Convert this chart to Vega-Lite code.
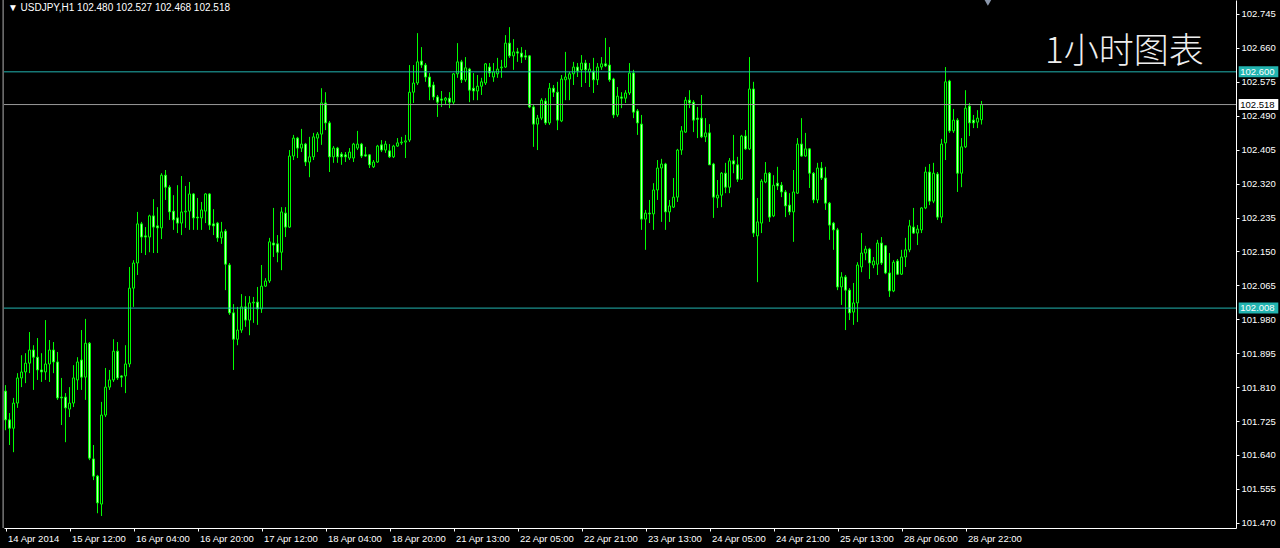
{
"$schema": "https://vega.github.io/schema/vega-lite/v6.json",
"width": 1232, "height": 528,
"autosize": {"type": "none"},
"padding": {"left": 4, "top": 0, "right": 44, "bottom": 20},
"background": "#000000",
"config": {"view": {"stroke": null}, "scale": {"continuousPadding": 0}, "axis": {"grid": false, "labelFont": "Liberation Sans", "labelFontSize": 9.5, "labelColor": "#ffffff", "domainColor": "#ffffff", "tickColor": "#ffffff", "title": null, "labelOverlap": false, "labelFlush": false}},
"datasets": {
"candles": [
{"i":0,"o":101.800,"h":101.815,"l":101.702,"c":101.728},
{"i":1,"o":101.728,"h":101.745,"l":101.665,"c":101.707},
{"i":2,"o":101.707,"h":101.783,"l":101.647,"c":101.770},
{"i":3,"o":101.770,"h":101.845,"l":101.758,"c":101.833},
{"i":4,"o":101.833,"h":101.890,"l":101.810,"c":101.848},
{"i":5,"o":101.848,"h":101.895,"l":101.820,"c":101.870},
{"i":6,"o":101.870,"h":101.948,"l":101.845,"c":101.903},
{"i":7,"o":101.903,"h":101.915,"l":101.803,"c":101.885},
{"i":8,"o":101.885,"h":101.933,"l":101.828,"c":101.853},
{"i":9,"o":101.853,"h":101.895,"l":101.823,"c":101.848},
{"i":10,"o":101.848,"h":101.978,"l":101.828,"c":101.868},
{"i":11,"o":101.868,"h":101.928,"l":101.823,"c":101.903},
{"i":12,"o":101.903,"h":101.923,"l":101.845,"c":101.873},
{"i":13,"o":101.873,"h":101.898,"l":101.778,"c":101.783},
{"i":14,"o":101.785,"h":101.833,"l":101.715,"c":101.783},
{"i":15,"o":101.785,"h":101.795,"l":101.672,"c":101.758},
{"i":16,"o":101.755,"h":101.810,"l":101.735,"c":101.770},
{"i":17,"o":101.770,"h":101.865,"l":101.760,"c":101.833},
{"i":18,"o":101.828,"h":101.885,"l":101.803,"c":101.873},
{"i":19,"o":101.878,"h":101.953,"l":101.803,"c":101.835},
{"i":20,"o":101.835,"h":101.981,"l":101.778,"c":101.920},
{"i":21,"o":101.920,"h":101.923,"l":101.627,"c":101.632},
{"i":22,"o":101.630,"h":101.665,"l":101.577,"c":101.587},
{"i":23,"o":101.587,"h":101.590,"l":101.494,"c":101.520},
{"i":24,"o":101.517,"h":101.773,"l":101.487,"c":101.740},
{"i":25,"o":101.740,"h":101.858,"l":101.735,"c":101.810},
{"i":26,"o":101.810,"h":101.853,"l":101.803,"c":101.828},
{"i":27,"o":101.828,"h":101.930,"l":101.823,"c":101.900},
{"i":28,"o":101.900,"h":101.923,"l":101.828,"c":101.833},
{"i":29,"o":101.838,"h":101.840,"l":101.810,"c":101.835},
{"i":30,"o":101.838,"h":101.915,"l":101.795,"c":101.868},
{"i":31,"o":101.868,"h":102.111,"l":101.860,"c":102.058},
{"i":32,"o":102.058,"h":102.128,"l":102.011,"c":102.121},
{"i":33,"o":102.121,"h":102.249,"l":102.091,"c":102.219},
{"i":34,"o":102.219,"h":102.224,"l":102.146,"c":102.186},
{"i":35,"o":102.189,"h":102.211,"l":102.141,"c":102.186},
{"i":36,"o":102.186,"h":102.242,"l":102.148,"c":102.239},
{"i":37,"o":102.239,"h":102.281,"l":102.146,"c":102.211},
{"i":38,"o":102.214,"h":102.261,"l":102.146,"c":102.209},
{"i":39,"o":102.209,"h":102.346,"l":102.181,"c":102.341},
{"i":40,"o":102.341,"h":102.354,"l":102.279,"c":102.311},
{"i":41,"o":102.311,"h":102.316,"l":102.229,"c":102.249},
{"i":42,"o":102.251,"h":102.291,"l":102.204,"c":102.229},
{"i":43,"o":102.234,"h":102.316,"l":102.196,"c":102.221},
{"i":44,"o":102.221,"h":102.339,"l":102.191,"c":102.249},
{"i":45,"o":102.249,"h":102.314,"l":102.209,"c":102.251},
{"i":46,"o":102.251,"h":102.324,"l":102.204,"c":102.294},
{"i":47,"o":102.294,"h":102.296,"l":102.204,"c":102.234},
{"i":48,"o":102.236,"h":102.284,"l":102.204,"c":102.234},
{"i":49,"o":102.234,"h":102.274,"l":102.204,"c":102.254},
{"i":50,"o":102.251,"h":102.296,"l":102.221,"c":102.294},
{"i":51,"o":102.294,"h":102.296,"l":102.204,"c":102.216},
{"i":52,"o":102.219,"h":102.256,"l":102.191,"c":102.214},
{"i":53,"o":102.221,"h":102.224,"l":102.174,"c":102.184},
{"i":54,"o":102.184,"h":102.224,"l":102.169,"c":102.199},
{"i":55,"o":102.201,"h":102.206,"l":102.053,"c":102.118},
{"i":56,"o":102.116,"h":102.121,"l":101.991,"c":101.996},
{"i":57,"o":101.996,"h":102.018,"l":101.853,"c":101.930},
{"i":58,"o":101.930,"h":102.011,"l":101.915,"c":101.953},
{"i":59,"o":101.953,"h":102.043,"l":101.946,"c":102.011},
{"i":60,"o":102.011,"h":102.038,"l":101.961,"c":101.978},
{"i":61,"o":101.978,"h":102.038,"l":101.940,"c":102.021},
{"i":62,"o":102.021,"h":102.036,"l":101.971,"c":102.023},
{"i":63,"o":102.023,"h":102.061,"l":101.966,"c":102.006},
{"i":64,"o":102.006,"h":102.116,"l":101.996,"c":102.063},
{"i":65,"o":102.063,"h":102.083,"l":102.061,"c":102.076},
{"i":66,"o":102.076,"h":102.184,"l":102.071,"c":102.174},
{"i":67,"o":102.171,"h":102.259,"l":102.136,"c":102.166},
{"i":68,"o":102.169,"h":102.191,"l":102.123,"c":102.148},
{"i":69,"o":102.148,"h":102.261,"l":102.103,"c":102.249},
{"i":70,"o":102.246,"h":102.261,"l":102.186,"c":102.211},
{"i":71,"o":102.211,"h":102.404,"l":102.209,"c":102.389},
{"i":72,"o":102.389,"h":102.442,"l":102.379,"c":102.434},
{"i":73,"o":102.434,"h":102.437,"l":102.384,"c":102.409},
{"i":74,"o":102.409,"h":102.457,"l":102.399,"c":102.419},
{"i":75,"o":102.419,"h":102.422,"l":102.364,"c":102.374},
{"i":76,"o":102.374,"h":102.437,"l":102.336,"c":102.387},
{"i":77,"o":102.387,"h":102.447,"l":102.379,"c":102.437},
{"i":78,"o":102.434,"h":102.449,"l":102.399,"c":102.444},
{"i":79,"o":102.444,"h":102.559,"l":102.417,"c":102.522},
{"i":80,"o":102.522,"h":102.549,"l":102.454,"c":102.472},
{"i":81,"o":102.472,"h":102.477,"l":102.349,"c":102.387},
{"i":82,"o":102.387,"h":102.414,"l":102.372,"c":102.409},
{"i":83,"o":102.409,"h":102.412,"l":102.372,"c":102.387},
{"i":84,"o":102.394,"h":102.399,"l":102.367,"c":102.387},
{"i":85,"o":102.392,"h":102.399,"l":102.374,"c":102.387},
{"i":86,"o":102.384,"h":102.409,"l":102.379,"c":102.399},
{"i":87,"o":102.384,"h":102.422,"l":102.374,"c":102.419},
{"i":88,"o":102.409,"h":102.452,"l":102.404,"c":102.419},
{"i":89,"o":102.419,"h":102.422,"l":102.384,"c":102.389},
{"i":90,"o":102.392,"h":102.412,"l":102.387,"c":102.389},
{"i":91,"o":102.392,"h":102.394,"l":102.359,"c":102.367},
{"i":92,"o":102.362,"h":102.379,"l":102.359,"c":102.374},
{"i":93,"o":102.374,"h":102.417,"l":102.372,"c":102.414},
{"i":94,"o":102.417,"h":102.429,"l":102.399,"c":102.404},
{"i":95,"o":102.404,"h":102.427,"l":102.397,"c":102.419},
{"i":96,"o":102.402,"h":102.419,"l":102.384,"c":102.387},
{"i":97,"o":102.387,"h":102.417,"l":102.384,"c":102.414},
{"i":98,"o":102.414,"h":102.434,"l":102.412,"c":102.422},
{"i":99,"o":102.422,"h":102.437,"l":102.417,"c":102.424},
{"i":100,"o":102.424,"h":102.442,"l":102.384,"c":102.427},
{"i":101,"o":102.429,"h":102.617,"l":102.424,"c":102.549},
{"i":102,"o":102.549,"h":102.617,"l":102.522,"c":102.572},
{"i":103,"o":102.572,"h":102.697,"l":102.567,"c":102.625},
{"i":104,"o":102.627,"h":102.662,"l":102.610,"c":102.617},
{"i":105,"o":102.617,"h":102.622,"l":102.575,"c":102.587},
{"i":106,"o":102.587,"h":102.597,"l":102.529,"c":102.562},
{"i":107,"o":102.567,"h":102.575,"l":102.529,"c":102.537},
{"i":108,"o":102.537,"h":102.542,"l":102.487,"c":102.524},
{"i":109,"o":102.532,"h":102.552,"l":102.512,"c":102.529},
{"i":110,"o":102.529,"h":102.537,"l":102.517,"c":102.534},
{"i":111,"o":102.534,"h":102.549,"l":102.509,"c":102.524},
{"i":112,"o":102.524,"h":102.597,"l":102.517,"c":102.595},
{"i":113,"o":102.595,"h":102.672,"l":102.585,"c":102.625},
{"i":114,"o":102.625,"h":102.630,"l":102.572,"c":102.580},
{"i":115,"o":102.580,"h":102.637,"l":102.575,"c":102.610},
{"i":116,"o":102.607,"h":102.610,"l":102.524,"c":102.554},
{"i":117,"o":102.559,"h":102.597,"l":102.529,"c":102.552},
{"i":118,"o":102.552,"h":102.592,"l":102.529,"c":102.564},
{"i":119,"o":102.564,"h":102.585,"l":102.542,"c":102.575},
{"i":120,"o":102.572,"h":102.622,"l":102.567,"c":102.620},
{"i":121,"o":102.612,"h":102.622,"l":102.587,"c":102.597},
{"i":122,"o":102.587,"h":102.622,"l":102.575,"c":102.600},
{"i":123,"o":102.595,"h":102.635,"l":102.585,"c":102.607},
{"i":124,"o":102.610,"h":102.630,"l":102.585,"c":102.612},
{"i":125,"o":102.612,"h":102.692,"l":102.610,"c":102.672},
{"i":126,"o":102.672,"h":102.712,"l":102.635,"c":102.640},
{"i":127,"o":102.640,"h":102.682,"l":102.605,"c":102.650},
{"i":128,"o":102.650,"h":102.660,"l":102.625,"c":102.647},
{"i":129,"o":102.647,"h":102.662,"l":102.622,"c":102.637},
{"i":130,"o":102.640,"h":102.655,"l":102.630,"c":102.637},
{"i":131,"o":102.640,"h":102.642,"l":102.509,"c":102.512},
{"i":132,"o":102.512,"h":102.517,"l":102.412,"c":102.469},
{"i":133,"o":102.469,"h":102.492,"l":102.404,"c":102.484},
{"i":134,"o":102.484,"h":102.534,"l":102.479,"c":102.529},
{"i":135,"o":102.527,"h":102.534,"l":102.467,"c":102.472},
{"i":136,"o":102.472,"h":102.572,"l":102.467,"c":102.559},
{"i":137,"o":102.559,"h":102.567,"l":102.537,"c":102.549},
{"i":138,"o":102.549,"h":102.575,"l":102.454,"c":102.479},
{"i":139,"o":102.477,"h":102.592,"l":102.474,"c":102.582},
{"i":140,"o":102.580,"h":102.650,"l":102.529,"c":102.587},
{"i":141,"o":102.582,"h":102.600,"l":102.529,"c":102.595},
{"i":142,"o":102.595,"h":102.625,"l":102.567,"c":102.612},
{"i":143,"o":102.612,"h":102.622,"l":102.587,"c":102.602},
{"i":144,"o":102.605,"h":102.642,"l":102.562,"c":102.622},
{"i":145,"o":102.622,"h":102.630,"l":102.572,"c":102.605},
{"i":146,"o":102.600,"h":102.622,"l":102.562,"c":102.607},
{"i":147,"o":102.602,"h":102.635,"l":102.547,"c":102.580},
{"i":148,"o":102.580,"h":102.622,"l":102.567,"c":102.612},
{"i":149,"o":102.612,"h":102.637,"l":102.605,"c":102.620},
{"i":150,"o":102.620,"h":102.685,"l":102.612,"c":102.615},
{"i":151,"o":102.617,"h":102.662,"l":102.575,"c":102.580},
{"i":152,"o":102.582,"h":102.585,"l":102.484,"c":102.492},
{"i":153,"o":102.492,"h":102.562,"l":102.487,"c":102.539},
{"i":154,"o":102.537,"h":102.549,"l":102.509,"c":102.534},
{"i":155,"o":102.534,"h":102.554,"l":102.522,"c":102.547},
{"i":156,"o":102.547,"h":102.622,"l":102.542,"c":102.597},
{"i":157,"o":102.597,"h":102.605,"l":102.484,"c":102.499},
{"i":158,"o":102.502,"h":102.507,"l":102.442,"c":102.472},
{"i":159,"o":102.469,"h":102.492,"l":102.204,"c":102.231},
{"i":160,"o":102.231,"h":102.254,"l":102.154,"c":102.246},
{"i":161,"o":102.246,"h":102.279,"l":102.221,"c":102.244},
{"i":162,"o":102.244,"h":102.321,"l":102.204,"c":102.304},
{"i":163,"o":102.304,"h":102.379,"l":102.279,"c":102.359},
{"i":164,"o":102.359,"h":102.382,"l":102.224,"c":102.369},
{"i":165,"o":102.369,"h":102.372,"l":102.204,"c":102.249},
{"i":166,"o":102.249,"h":102.279,"l":102.224,"c":102.264},
{"i":167,"o":102.261,"h":102.334,"l":102.259,"c":102.286},
{"i":168,"o":102.286,"h":102.407,"l":102.274,"c":102.404},
{"i":169,"o":102.404,"h":102.464,"l":102.392,"c":102.452},
{"i":170,"o":102.449,"h":102.537,"l":102.447,"c":102.529},
{"i":171,"o":102.529,"h":102.554,"l":102.509,"c":102.522},
{"i":172,"o":102.524,"h":102.529,"l":102.449,"c":102.479},
{"i":173,"o":102.484,"h":102.512,"l":102.434,"c":102.481},
{"i":174,"o":102.484,"h":102.542,"l":102.434,"c":102.437},
{"i":175,"o":102.437,"h":102.484,"l":102.424,"c":102.447},
{"i":176,"o":102.447,"h":102.469,"l":102.367,"c":102.367},
{"i":177,"o":102.369,"h":102.372,"l":102.234,"c":102.286},
{"i":178,"o":102.284,"h":102.329,"l":102.259,"c":102.291},
{"i":179,"o":102.291,"h":102.349,"l":102.261,"c":102.346},
{"i":180,"o":102.346,"h":102.372,"l":102.296,"c":102.311},
{"i":181,"o":102.311,"h":102.384,"l":102.296,"c":102.377},
{"i":182,"o":102.377,"h":102.442,"l":102.346,"c":102.369},
{"i":183,"o":102.367,"h":102.387,"l":102.324,"c":102.331},
{"i":184,"o":102.331,"h":102.442,"l":102.329,"c":102.439},
{"i":185,"o":102.439,"h":102.454,"l":102.404,"c":102.407},
{"i":186,"o":102.407,"h":102.637,"l":102.404,"c":102.557},
{"i":187,"o":102.557,"h":102.575,"l":102.186,"c":102.196},
{"i":188,"o":102.189,"h":102.284,"l":102.073,"c":102.224},
{"i":189,"o":102.221,"h":102.331,"l":102.196,"c":102.326},
{"i":190,"o":102.324,"h":102.374,"l":102.321,"c":102.346},
{"i":191,"o":102.346,"h":102.349,"l":102.224,"c":102.236},
{"i":192,"o":102.239,"h":102.341,"l":102.236,"c":102.316},
{"i":193,"o":102.321,"h":102.362,"l":102.304,"c":102.314},
{"i":194,"o":102.316,"h":102.324,"l":102.286,"c":102.299},
{"i":195,"o":102.299,"h":102.304,"l":102.236,"c":102.264},
{"i":196,"o":102.266,"h":102.296,"l":102.241,"c":102.249},
{"i":197,"o":102.249,"h":102.354,"l":102.174,"c":102.299},
{"i":198,"o":102.296,"h":102.434,"l":102.294,"c":102.419},
{"i":199,"o":102.419,"h":102.484,"l":102.387,"c":102.389},
{"i":200,"o":102.389,"h":102.447,"l":102.387,"c":102.407},
{"i":201,"o":102.407,"h":102.409,"l":102.309,"c":102.346},
{"i":202,"o":102.346,"h":102.349,"l":102.271,"c":102.279},
{"i":203,"o":102.279,"h":102.372,"l":102.271,"c":102.359},
{"i":204,"o":102.359,"h":102.374,"l":102.329,"c":102.334},
{"i":205,"o":102.334,"h":102.362,"l":102.254,"c":102.271},
{"i":206,"o":102.271,"h":102.274,"l":102.179,"c":102.216},
{"i":207,"o":102.221,"h":102.224,"l":102.154,"c":102.204},
{"i":208,"o":102.204,"h":102.209,"l":102.053,"c":102.061},
{"i":209,"o":102.061,"h":102.098,"l":102.016,"c":102.086},
{"i":210,"o":102.086,"h":102.091,"l":101.953,"c":102.053},
{"i":211,"o":102.053,"h":102.058,"l":101.978,"c":101.996},
{"i":212,"o":101.998,"h":102.071,"l":101.966,"c":102.021},
{"i":213,"o":102.021,"h":102.123,"l":101.973,"c":102.116},
{"i":214,"o":102.111,"h":102.196,"l":102.098,"c":102.146},
{"i":215,"o":102.146,"h":102.164,"l":102.128,"c":102.156},
{"i":216,"o":102.156,"h":102.159,"l":102.081,"c":102.121},
{"i":217,"o":102.116,"h":102.136,"l":102.108,"c":102.126},
{"i":218,"o":102.118,"h":102.179,"l":102.091,"c":102.171},
{"i":219,"o":102.171,"h":102.186,"l":102.116,"c":102.121},
{"i":220,"o":102.164,"h":102.166,"l":102.093,"c":102.096},
{"i":221,"o":102.096,"h":102.146,"l":102.036,"c":102.051},
{"i":222,"o":102.051,"h":102.128,"l":102.048,"c":102.123},
{"i":223,"o":102.126,"h":102.131,"l":102.091,"c":102.093},
{"i":224,"o":102.093,"h":102.154,"l":102.091,"c":102.136},
{"i":225,"o":102.136,"h":102.184,"l":102.111,"c":102.154},
{"i":226,"o":102.154,"h":102.229,"l":102.148,"c":102.214},
{"i":227,"o":102.211,"h":102.259,"l":102.194,"c":102.196},
{"i":228,"o":102.196,"h":102.216,"l":102.166,"c":102.206},
{"i":229,"o":102.204,"h":102.261,"l":102.196,"c":102.259},
{"i":230,"o":102.259,"h":102.362,"l":102.256,"c":102.349},
{"i":231,"o":102.349,"h":102.369,"l":102.266,"c":102.276},
{"i":232,"o":102.276,"h":102.372,"l":102.271,"c":102.346},
{"i":233,"o":102.344,"h":102.349,"l":102.229,"c":102.236},
{"i":234,"o":102.236,"h":102.432,"l":102.221,"c":102.419},
{"i":235,"o":102.422,"h":102.612,"l":102.379,"c":102.575},
{"i":236,"o":102.577,"h":102.580,"l":102.447,"c":102.452},
{"i":237,"o":102.452,"h":102.507,"l":102.447,"c":102.479},
{"i":238,"o":102.479,"h":102.484,"l":102.299,"c":102.346},
{"i":239,"o":102.346,"h":102.434,"l":102.311,"c":102.412},
{"i":240,"o":102.412,"h":102.554,"l":102.409,"c":102.509},
{"i":241,"o":102.514,"h":102.522,"l":102.439,"c":102.472},
{"i":242,"o":102.479,"h":102.492,"l":102.459,"c":102.472},
{"i":243,"o":102.474,"h":102.504,"l":102.459,"c":102.484},
{"i":244,"o":102.480,"h":102.527,"l":102.468,"c":102.518}
],
"levels": [
{"level": 102.600, "kind": "line"},
{"level": 102.008, "kind": "line"},
{"level": 102.518, "kind": "bid"}
]
},
"layer": [
{"data": {"name": "candles"},
 "mark": {"type": "rule", "color": "#00ff00", "strokeWidth": 1},
 "encoding": {
  "x": {"field": "i", "type": "quantitative", "scale": {"domain": [-0.375, 307.625], "nice": false, "zero": false, "padding": 0},
        "axis": {"orient": "bottom", "values": [0,16,32,48,64,80,96,112,128,144,160,176,192,208,224,240], "tickCount": 40,
                 "labelExpr": "['14 Apr 2014','15 Apr 12:00','16 Apr 04:00','16 Apr 20:00','17 Apr 12:00','18 Apr 04:00','18 Apr 20:00','21 Apr 13:00','22 Apr 05:00','22 Apr 21:00','23 Apr 13:00','24 Apr 05:00','24 Apr 21:00','25 Apr 13:00','28 Apr 06:00','28 Apr 22:00'][round(datum.value/16)]",
                 "labelAlign": "left", "labelBaseline": "top", "labelOffset": 2, "labelPadding": 2, "tickSize": 3, "labelFlush": false, "labelOverlap": false}},
  "y": {"field": "l", "type": "quantitative", "scale": {"domain": [101.457, 102.780], "nice": false, "zero": false, "padding": 0},
        "axis": {"orient": "right", "values": [101.470,101.555,101.640,101.725,101.810,101.895,101.980,102.065,102.150,102.235,102.320,102.405,102.490,102.575,102.660,102.745], "tickCount": 40,
                 "format": ".3f", "tickSize": 3, "labelPadding": 2, "labelFlush": false, "labelOverlap": false}},
  "y2": {"field": "h"}
 }
},
{"data": {"name": "candles"},
 "mark": {"type": "bar", "width": 2, "stroke": "#00ff00", "strokeWidth": 1},
 "encoding": {
  "x": {"field": "i", "type": "quantitative"},
  "y": {"field": "o", "type": "quantitative"},
  "y2": {"field": "c"},
  "fill": {"condition": {"test": "datum.c < datum.o", "value": "#c0ffb8"}, "value": "#000000"}
 }
},
{"data": {"name": "levels"},
 "mark": {"type": "rule", "strokeWidth": 1},
 "encoding": {
  "y": {"field": "level", "type": "quantitative"},
  "stroke": {"condition": {"test": "datum.kind == 'bid'", "value": "#9a9a9a"}, "value": "#22b4b0"}
 }
},
{"data": {"name": "levels"},
 "mark": {"type": "bar", "height": 11},
 "encoding": {
  "x": {"datum": 308.3},
  "x2": {"datum": 318.2},
  "y": {"field": "level", "type": "quantitative"},
  "fill": {"condition": {"test": "datum.kind == 'bid'", "value": "#ffffff"}, "value": "#22b4b0"}
 }
},
{"data": {"name": "levels"},
 "mark": {"type": "text", "align": "left", "baseline": "middle", "font": "Liberation Sans", "fontSize": 9.5},
 "encoding": {
  "x": {"datum": 308.7},
  "y": {"field": "level", "type": "quantitative"},
  "text": {"field": "level", "type": "quantitative", "format": ".3f"},
  "color": {"condition": {"test": "datum.kind == 'bid'", "value": "#000000"}, "value": "#ffffff"}
 }
},
{"data": {"values": [{"label": "▼ USDJPY,H1  102.480 102.527 102.468 102.518"}]},
 "mark": {"type": "text", "align": "left", "baseline": "middle", "font": "Liberation Sans", "fontSize": 10, "color": "#ffffff"},
 "encoding": {"x": {"datum": 0.6}, "y": {"datum": 102.760}, "text": {"field": "label"}}
},
{"data": {"values": [{"label": "1小时图表"}]},
 "mark": {"type": "text", "align": "left", "baseline": "middle", "font": "Noto Sans CJK SC", "fontSize": 35, "fontWeight": 300, "color": "#eeeeee"},
 "encoding": {"x": {"datum": 259.9}, "y": {"datum": 102.650}, "text": {"field": "label"}}
},
{"data": {"values": [{"marker": "shift"}]},
 "mark": {"type": "point", "shape": "triangle-down", "filled": true, "size": 110, "color": "#8a96aa", "opacity": 1},
 "encoding": {"x": {"datum": 245.6}, "y": {"datum": 102.777}}
},
{"data": {"values": [{"edge": "left"}]},
 "mark": {"type": "rule", "color": "#b0b0b0", "strokeWidth": 1},
 "encoding": {"x": {"datum": -0.6}}
}
]
}
